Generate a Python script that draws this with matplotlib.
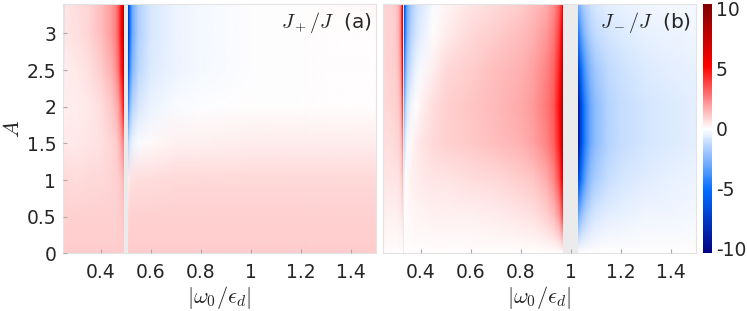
import numpy as np
import matplotlib
matplotlib.use("Agg")
import matplotlib.pyplot as plt
from matplotlib.colors import LinearSegmentedColormap, Normalize
from matplotlib.cm import ScalarMappable
from matplotlib.image import NonUniformImage
from matplotlib.patches import Rectangle

plt.rcParams['font.family'] = ['DejaVu Sans']
plt.rcParams['mathtext.fontset'] = 'cm'

# ---------------- data ----------------
A_nodes = [0.0, 0.5, 1.0, 1.5, 2.0, 2.5, 3.0, 3.4]

# panel (a): J+/J, left of resonance 1/2
a1_x = [0.25, 0.256, 0.3, 0.35, 0.4, 0.44, 0.46, 0.47, 0.48, 0.49]
a1_v = [
    [1.0, 1.0, 1.0, 1.0, 1.0, 1.0, 1.0, 1.0, 1.0, 1.0],
    [0.95, 0.95, 0.95, 0.95, 0.95, 0.95, 0.97, 1.0, 1.05, 1.15],
    [0.7, 0.75, 0.72, 0.75, 0.8, 0.85, 0.95, 1.05, 1.2, 1.5],
    [0.35, 0.45, 0.42, 0.5, 0.62, 0.85, 1.05, 1.3, 1.8, 2.6],
    [0.0, 0.35, 0.38, 0.45, 0.68, 1.1, 1.5, 2.0, 3.0, 4.8],
    [-0.8, 0.4, 0.45, 0.62, 1.0, 1.6, 2.2, 3.0, 4.5, 7.0],
    [-1.5, 0.5, 0.62, 0.85, 1.3, 2.0, 2.6, 3.5, 5.0, 8.0],
    [-1.5, 0.5, 0.65, 0.85, 1.3, 2.0, 2.6, 3.5, 5.0, 8.0],
]
# panel (a): right of resonance 1/2
a2_x = [0.51, 0.515, 0.525, 0.55, 0.6, 0.7, 0.8, 1.0, 1.2, 1.5]
a2_v = [
    [1.0, 1.0, 1.0, 1.0, 1.0, 1.0, 1.0, 1.0, 1.0, 1.0],
    [0.85, 0.9, 0.93, 0.95, 0.95, 0.95, 0.95, 0.95, 0.95, 0.95],
    [0.4, 0.5, 0.6, 0.65, 0.7, 0.75, 0.75, 0.75, 0.75, 0.75],
    [-1.5, -0.8, -0.4, -0.1, 0.1, 0.25, 0.3, 0.35, 0.4, 0.4],
    [-4.0, -2.5, -1.5, -0.8, -0.4, -0.15, -0.05, 0.0, 0.02, 0.02],
    [-6.0, -4.0, -2.5, -1.3, -0.7, -0.35, -0.2, -0.08, 0.0, 0.03],
    [-7.0, -5.0, -3.0, -1.6, -0.8, -0.4, -0.22, -0.06, 0.03, 0.06],
    [-7.0, -5.0, -3.0, -1.6, -0.8, -0.4, -0.18, -0.03, 0.06, 0.1],
]

# panel (b): J-/J, left of resonance 1/3
b1_x = [0.25, 0.28, 0.3, 0.31, 0.318, 0.322, 0.326]
b1_v = [
    [0.0, 0.0, 0.0, 0.0, 0.0, 0.0, 0.0],
    [0.3, 0.3, 0.3, 0.35, 0.4, 0.5, 0.6],
    [0.5, 0.5, 0.55, 0.6, 0.8, 1.0, 1.3],
    [0.7, 0.7, 0.75, 0.85, 1.2, 1.6, 2.5],
    [0.8, 0.85, 0.9, 1.1, 1.6, 2.4, 4.0],
    [0.85, 0.9, 1.0, 1.3, 2.0, 3.2, 5.5],
    [0.85, 0.95, 1.1, 1.5, 2.4, 4.0, 6.5],
    [0.85, 0.95, 1.1, 1.5, 2.5, 4.0, 6.5],
]
# panel (b): between resonances 1/3 and 1
b2_x = [0.334, 0.338, 0.345, 0.36, 0.38, 0.4, 0.45, 0.5, 0.6, 0.7, 0.8, 0.85, 0.9,
        0.93, 0.95, 0.96, 0.966]
b2_v = [
    [0.0] * 17,
    [0.0, 0.08, 0.12, 0.16, 0.2, 0.22, 0.25, 0.25, 0.3, 0.35, 0.5, 0.6, 0.9, 1.3, 2.0, 3.0, 4.0],
    [-0.3, 0.0, 0.15, 0.3, 0.38, 0.42, 0.5, 0.55, 0.65, 0.8, 1.0, 1.2, 1.7, 2.4, 3.5, 4.8, 6.5],
    [-1.2, -0.5, -0.1, 0.15, 0.35, 0.5, 0.75, 0.9, 1.1, 1.3, 1.6, 1.9, 2.5, 3.2, 4.5, 6.2, 8.2],
    [-2.5, -1.5, -0.8, -0.25, 0.05, 0.3, 0.7, 0.95, 1.2, 1.4, 1.75, 2.1, 2.7, 3.4, 4.8, 6.5, 8.7],
    [-4.0, -2.8, -1.7, -0.9, -0.4, -0.1, 0.4, 0.75, 1.05, 1.3, 1.6, 1.9, 2.5, 3.1, 4.4, 5.9, 7.6],
    [-5.5, -4.0, -2.6, -1.5, -0.9, -0.55, 0.0, 0.4, 0.8, 1.0, 1.3, 1.6, 2.1, 2.7, 3.8, 5.0, 6.3],
    [-6.0, -4.5, -3.0, -1.8, -1.1, -0.75, -0.15, 0.2, 0.55, 0.8, 1.05, 1.3, 1.7, 2.3, 3.2, 4.2, 5.3],
]
# panel (b): right of resonance 1
b3_x = [1.03, 1.035, 1.045, 1.06, 1.08, 1.1, 1.15, 1.2, 1.3, 1.4, 1.5]
b3_v = [
    [0.0] * 11,
    [-3.0, -2.5, -1.9, -1.4, -1.0, -0.8, -0.55, -0.42, -0.3, -0.25, -0.2],
    [-6.5, -5.5, -4.2, -3.0, -2.1, -1.65, -1.1, -0.85, -0.6, -0.47, -0.38],
    [-9.0, -7.5, -5.6, -4.0, -2.8, -2.2, -1.5, -1.2, -0.85, -0.68, -0.55],
    [-9.0, -7.5, -5.6, -4.0, -2.8, -2.2, -1.5, -1.2, -0.85, -0.68, -0.55],
    [-7.0, -5.9, -4.4, -3.2, -2.3, -1.8, -1.25, -0.98, -0.68, -0.55, -0.43],
    [-4.5, -3.8, -2.9, -2.1, -1.5, -1.2, -0.85, -0.68, -0.47, -0.38, -0.3],
    [-2.8, -2.4, -1.9, -1.4, -1.0, -0.8, -0.55, -0.43, -0.3, -0.24, -0.19],
]

x_ticks = [0.4, 0.6, 0.8, 1.0, 1.2, 1.4]
x_ticklabels = ["0.4", "0.6", "0.8", "1", "1.2", "1.4"]
y_ticks = [0, 0.5, 1, 1.5, 2, 2.5, 3]
y_ticklabels = ["0", "0.5", "1", "1.5", "2", "2.5", "3"]
cbar_ticks = [-10, -5, 0, 5, 10]
cbar_ticklabels = ["-10", "-5", "0", "5", "10"]

# ---------------- styling ----------------
VLIM = 10.4
cmap = LinearSegmentedColormap.from_list(
    "rb",
    [(0.0, (0.0, 0.0, 0.50)),
     (0.25, (0.0, 0.42, 1.0)),
     (0.5, (1.0, 1.0, 1.0)),
     (0.75, (1.0, 0.0, 0.0)),
     (1.0, (0.50, 0.0, 0.0))])
norm = Normalize(vmin=-VLIM, vmax=VLIM)

fig = plt.figure(figsize=(7.47, 3.11), dpi=100)
ax_a = fig.add_axes([0.0847, 0.1849, 0.4186, 0.8022])
ax_b = fig.add_axes([0.5131, 0.1849, 0.4186, 0.8022])
cax = fig.add_axes([0.9415, 0.1849, 0.0113, 0.8022])

fs = 13.5
txtcol = '#262626'
YMAX = 3.4

def draw(ax, pieces):
    ax.set_facecolor('#ebebeb')
    ax.set_xlim(0.25, 1.5)
    ax.set_ylim(0, YMAX)
    for xs, vs in pieces:
        xs = np.array(xs, dtype=float)
        im = NonUniformImage(ax, interpolation='bilinear', cmap=cmap, norm=norm,
                             extent=(xs[0], xs[-1], 0, YMAX))
        im.set_data(xs, np.array(A_nodes, dtype=float), np.array(vs, dtype=float))
        ax.add_image(im)
        clip = Rectangle((xs[0], 0), xs[-1] - xs[0], YMAX, transform=ax.transData)
        im.set_clip_path(clip)
    ax.set_xlim(0.25, 1.5)
    ax.set_ylim(0, YMAX)
    ax.set_axisbelow(True)
    for s in ax.spines.values():
        s.set_color('#e3e3e3')
        s.set_linewidth(0.8)
        s.set_zorder(0.5)
    ax.set_xticks(x_ticks)
    ax.set_xticklabels(x_ticklabels)
    ax.tick_params(axis='both', direction='in', length=3, color='#aaaaaa',
                   labelsize=fs, labelcolor=txtcol)
    ax.tick_params(axis='x', pad=7)
    ax.set_xlabel(r'$|\omega_0/\epsilon_d|$', fontsize=16, color=txtcol, labelpad=1)

draw(ax_a, [(a1_x, a1_v), (a2_x, a2_v)])
draw(ax_b, [(b1_x, b1_v), (b2_x, b2_v), (b3_x, b3_v)])

ax_a.set_yticks(y_ticks)
ax_a.set_yticklabels(y_ticklabels)
ax_a.tick_params(axis='y', pad=5)
ax_a.set_ylabel(r'$A$', fontsize=16, color=txtcol, labelpad=3)
ax_b.set_yticks([])

ax_a.text(0.985, 0.975, r'$J_+/J$  (a)', transform=ax_a.transAxes, ha='right',
          va='top', fontsize=14.5, color=txtcol, zorder=5)
ax_b.text(0.985, 0.975, r'$J_-/J$  (b)', transform=ax_b.transAxes, ha='right',
          va='top', fontsize=14.5, color=txtcol, zorder=5)

sm = ScalarMappable(norm=norm, cmap=cmap)
cb = fig.colorbar(sm, cax=cax, ticks=cbar_ticks)
cb.ax.set_yticklabels(cbar_ticklabels)
cb.outline.set_visible(False)
cb.ax.tick_params(length=0, labelsize=fs, labelcolor=txtcol, pad=3)

fig.savefig("out.png", dpi=100)
